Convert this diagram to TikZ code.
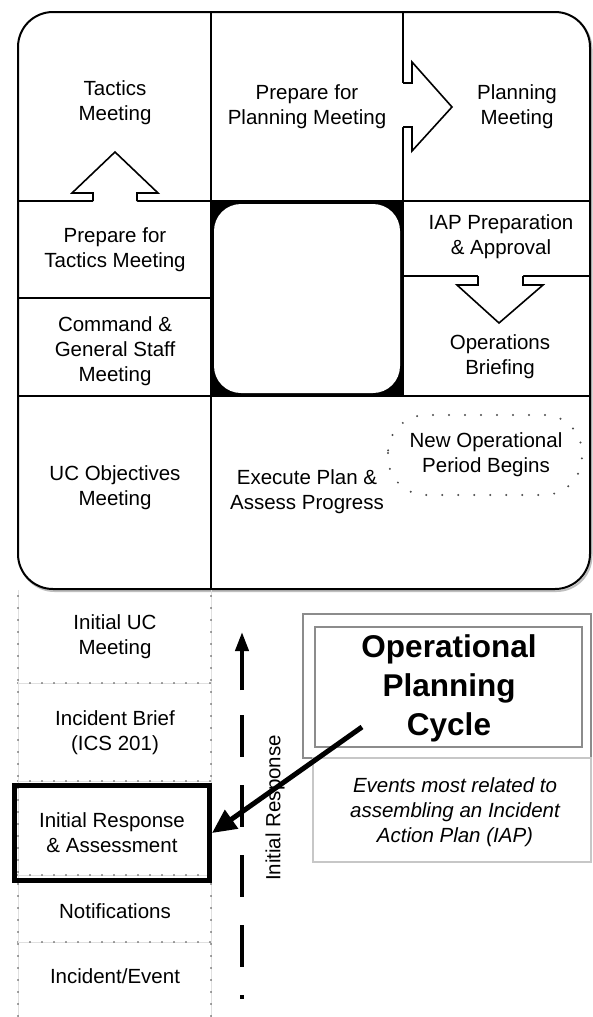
\documentclass[tikz,border=0pt]{standalone}
\usepackage{fontspec}
\setmainfont{Liberation Sans}
\usetikzlibrary{arrows.meta}
\begin{document}
\begin{tikzpicture}[x=1pt,y=-1pt,
  lbl/.style={align=center, font=\fontsize{20.5}{25}\selectfont, inner sep=0pt},
  gridline/.style={line width=2pt},
  bigarrow/.style={line width=1.6pt, line join=miter},
  dotline/.style={draw=black!70, line width=1.8pt, dash pattern=on 0pt off 12pt, line cap=round},
  faintline/.style={draw=black!12, line width=0.8pt},
  graybox/.style={draw=black!45, line width=1.2pt}]
\useasboundingbox (0,0) rectangle (592,1017);
\fill[white] (0,0) rectangle (592,1017);

% outer rounded box with shadow
\draw[black!25, line width=2pt, rounded corners=35pt] (19.5,14) rectangle (591.5,591);
\fill[white, rounded corners=35pt] (18,12) rectangle (590,589);

% central rounded square
\fill[black] (211,201) rectangle (403,396);
\fill[white, rounded corners=27pt] (214,204) rectangle (400,393);

% grid lines
\draw[gridline] (211,12) -- (211,589);
\draw[gridline] (403,12) -- (403,396);
\draw[gridline] (18,201) -- (590,201);
\draw[gridline] (18,298) -- (211,298);
\draw[gridline] (403,276) -- (590,276);
\draw[gridline] (18,396) -- (590,396);
\draw[gridline, rounded corners=35pt] (18,12) rectangle (590,589);

% block arrows
\fill[white] (93,202.5) -- (93,193) -- (72,193) -- (115,152) -- (158,193) -- (137,193) -- (137,202.5) -- cycle;
\draw[bigarrow] (93,201) -- (93,193) -- (72,193) -- (115,152) -- (158,193) -- (137,193) -- (137,201);
\fill[white] (402,83) -- (412,83) -- (412,62) -- (452,107) -- (412,151) -- (412,127) -- (402,127) -- cycle;
\draw[bigarrow] (403,83) -- (412,83) -- (412,62) -- (452,107) -- (412,151) -- (412,127) -- (403,127);
\fill[white] (478,275) -- (478,285) -- (457,285) -- (499,323) -- (543,285) -- (523,285) -- (523,275) -- cycle;
\draw[bigarrow] (478,276) -- (478,285) -- (457,285) -- (499,323) -- (543,285) -- (523,285) -- (523,276);

% cycle labels
\node[lbl] (tactics) at (115,103) {Tactics\\Meeting};
\node[lbl] (prepplan) at (307,107) {Prepare for\\Planning Meeting};
\node[lbl] (planning) at (517,107) {Planning\\Meeting};
\node[lbl] (preptac) at (115,250) {Prepare for\\Tactics Meeting};
\node[lbl] (iap) at (501,237) {IAP Preparation\\\& Approval};
\node[lbl] (cgs) at (115,351) {Command \&\\General Staff\\Meeting};
\node[lbl] (opsbrief) at (500,357) {Operations\\Briefing};
\node[lbl] (ucobj) at (115,488) {UC Objectives\\Meeting};
\node[lbl] (execute) at (307,492) {Execute Plan \&\\Assess Progress};
\draw[draw=black!70, line width=2.2pt, dash pattern=on 0pt off 16pt, line cap=round, rounded corners=38pt] (388,415) rectangle (582,495);
\node[lbl] (newop) at (486,455) {New Operational\\Period Begins};

% initial response column
\foreach \yy in {683,781,875,942} {
  \draw[faintline] (18,\yy) -- (211,\yy);
  \draw[dotline] (18,\yy) -- (211,\yy);
}
\foreach \xx in {18,211} {
  \draw[faintline] (\xx,590) -- (\xx,1017);
  \draw[dotline] (\xx,596) -- (\xx,1017);
}
\node[lbl] (initialuc) at (115,637) {Initial UC\\Meeting};
\node[lbl] (brief) at (115,733) {Incident Brief\\(ICS 201)};
\node[lbl, draw, line width=5pt, minimum width=195pt, minimum height=95pt] (irbox) at (112,833) {Initial Response\\\& Assessment};
\node[lbl] (notif) at (115,911) {Notifications};
\node[lbl] (event) at (115,976) {Incident/Event};

% initial response dashed arrow
\coordinate (irtop) at (242,632);
\coordinate (irmid) at (242,690);
\coordinate (irdash) at (242,715);
\coordinate (irbot) at (242,999);
\draw[line width=4pt, -{Triangle[length=19pt,width=13pt]}] (irmid) -- (irtop);
\draw[line width=4pt, dash pattern=on 42pt off 28pt] (irdash) -- (irbot);
\node[lbl, rotate=90] (irlabel) at (275,808) {Initial Response};

% legend boxes
\draw[graybox] (303,614) rectangle (591,758);
\draw[graybox] (315,627) rectangle (582,747);
\draw[draw=black!22, line width=1.2pt] (313,758) rectangle (591,862);
\node[align=center, inner sep=0pt, font=\fontsize{31.5}{39}\selectfont\bfseries] (opc) at (449,688) {Operational\\Planning\\Cycle};
\node[align=center, inner sep=0pt, font=\fontsize{20.5}{25}\selectfont\itshape] (events) at (455,812) {Events most related to\\assembling an Incident\\Action Plan (IAP)};

% pointer arrow
\coordinate (opcarrow) at (362,727);
\draw[line width=5pt, -{Triangle[length=24pt,width=22pt]}] (opcarrow) -- (irbox.east);
\end{tikzpicture}
\end{document}
